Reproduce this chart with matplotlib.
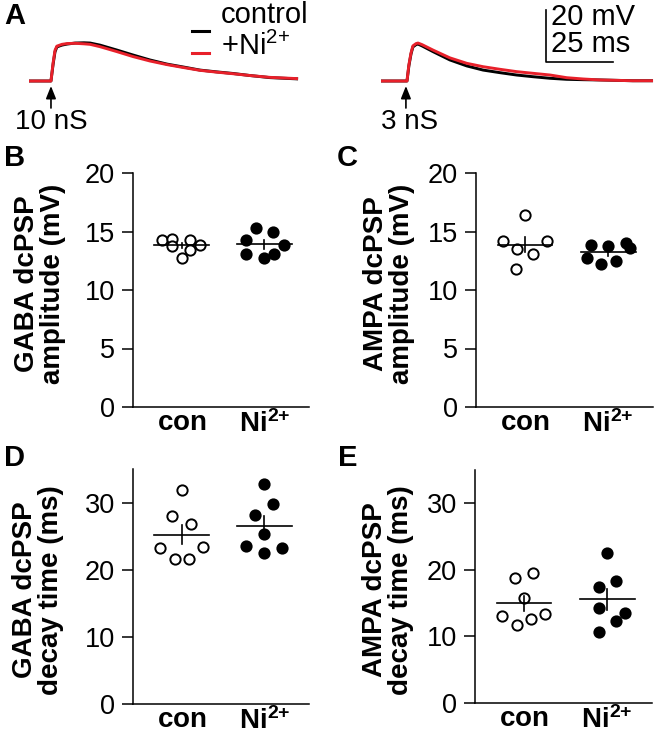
import numpy as np
import matplotlib
matplotlib.use("Agg")
import matplotlib.pyplot as plt
from matplotlib.lines import Line2D

plt.rcParams['font.family'] = ['Liberation Sans', 'DejaVu Sans']
plt.rcParams['mathtext.fontset'] = 'custom'
plt.rcParams['mathtext.rm'] = 'Liberation Sans'
plt.rcParams['mathtext.bf'] = 'Liberation Sans:bold'
plt.rcParams['mathtext.default'] = 'regular'

# ---------------- data ----------------
groups = [r"$\mathbf{con}$", r"$\mathbf{Ni^{2{+}}}$"]

# Panel A traces (time ms, voltage mV)
gaba_t_con = [0, 8.2, 9.0, 9.7, 10.4, 12.3, 14.2, 17.2, 20.5, 22.8, 26.5, 32.8, 38.8, 45.1, 51.5, 57.5, 63.8, 70.1, 76.1, 82.5, 89.9, 100.4]
gaba_v_con = [0, 0, 6.5, 11.2, 13.1, 13.8, 14.2, 14.6, 14.7, 14.6, 13.8, 11.9, 10.0, 8.1, 6.5, 5.4, 4.2, 3.5, 2.9, 2.1, 1.3, 0.8]
gaba_t_ni = [0, 8.2, 9.0, 9.7, 10.4, 12.3, 14.2, 17.2, 20.5, 22.8, 26.5, 32.8, 38.8, 45.1, 51.5, 57.5, 63.8, 70.1, 76.1, 82.5, 89.9, 100.4]
gaba_v_ni = [0, 0, 7.0, 11.8, 13.4, 14.1, 14.4, 14.5, 14.3, 14.1, 13.2, 11.3, 9.4, 7.7, 6.3, 5.2, 4.1, 3.4, 2.8, 2.1, 1.4, 0.9]

ampa_t_con = [0, 9.7, 10.4, 11.2, 11.9, 13.1, 13.8, 15.3, 19.4, 25.7, 32.0, 38.1, 44.4, 50.6, 56.7, 63.1, 69.3, 75.5, 81.7, 94.0, 101.5]
ampa_v_con = [0, 0, 5.8, 10.4, 13.1, 14.0, 14.2, 13.5, 11.3, 8.1, 5.8, 4.2, 3.2, 2.3, 1.65, 1.04, 0.65, 0.5, 0.4, 0.1, 0.1]
ampa_t_ni = [0, 9.7, 10.4, 11.2, 11.9, 13.1, 13.8, 15.3, 19.4, 25.7, 32.0, 38.1, 44.4, 50.6, 56.7, 63.1, 69.3, 75.5, 81.7, 94.0, 101.5]
ampa_v_ni = [0, 0, 6.2, 10.8, 13.5, 14.4, 14.6, 14.0, 11.9, 8.9, 6.8, 5.5, 4.5, 3.6, 2.96, 2.3, 1.27, 0.77, 0.4, 0.1, 0.1]

# Panel B: GABA amplitude (mV)
gaba_amp_con = [14.24, 14.38, 14.24, 13.8, 13.87, 13.4, 12.7]
gaba_amp_ni = [15.3, 15.0, 14.24, 13.87, 13.1, 13.1, 12.7]
# Panel C: AMPA amplitude (mV)
ampa_amp_con = [16.42, 14.23, 14.23, 13.52, 13.06, 11.78]
ampa_amp_ni = [13.86, 13.72, 14.0, 13.6, 12.72, 12.2, 12.44]
# Panel D: GABA decay (ms)
gaba_dec_con = [31.9, 28.0, 26.8, 23.3, 23.4, 21.6, 21.6]
gaba_dec_ni = [32.7, 29.8, 28.2, 25.3, 23.6, 23.3, 22.5]
# Panel E: AMPA decay (ms)
ampa_dec_con = [18.75, 19.5, 15.75, 13.0, 11.65, 12.65, 13.4]
ampa_dec_ni = [22.6, 18.35, 17.35, 14.25, 13.5, 12.25, 10.65]

# horizontal scatter offsets
jit_b_con = [-0.24, -0.12, 0.10, -0.12, 0.22, 0.10, 0.0]
jit_b_ni = [-0.10, 0.10, -0.22, 0.24, -0.22, 0.12, 0.0]
jit_c_con = [0.0, -0.26, 0.26, -0.10, 0.10, -0.11]
jit_c_ni = [-0.21, 0.0, 0.21, 0.26, -0.25, -0.08, 0.09]
jit_d_con = [0.0, -0.12, 0.11, -0.26, 0.26, -0.08, 0.09]
jit_d_ni = [0.0, 0.11, -0.11, 0.0, -0.22, 0.21, 0.0]
jit_e_con = [-0.11, 0.11, 0.0, -0.27, -0.09, 0.08, 0.25]
jit_e_ni = [0.0, 0.11, -0.10, -0.10, 0.22, 0.11, -0.10]

W, H = 656, 735
fig = plt.figure(figsize=(W / 100, H / 100), dpi=100)
RED = '#e8202a'


def fx(px):
    return px / W


def fy(py):
    return 1 - py / H


# ---------------- Panel A ----------------
PX_MS = 2.68
PX_MV = 2.6
X0 = 29
BASE = 81
axA = fig.add_axes([0, fy(140), 1, 140 / H])
axA.set_xlim(-X0 / PX_MS, (W - X0) / PX_MS)
axA.set_ylim(-(140 - BASE) / PX_MV, BASE / PX_MV)
axA.axis('off')
offset_r = (381 - X0) / PX_MS
lw_tr = 2.1
axA.plot(gaba_t_con, gaba_v_con, color='black', lw=lw_tr, solid_capstyle='butt')
axA.plot(gaba_t_ni, gaba_v_ni, color=RED, lw=lw_tr, solid_capstyle='butt')
axA.plot(np.array(ampa_t_con) + offset_r, ampa_v_con, color='black', lw=lw_tr, solid_capstyle='butt')
axA.plot(np.array(ampa_t_ni) + offset_r, ampa_v_ni, color=RED, lw=lw_tr, solid_capstyle='butt')

# scale bar
sb_t = (546 - X0) / PX_MS
sb_v = (BASE - 62) / PX_MV
axA.plot([sb_t, sb_t, sb_t + 25], [sb_v + 20, sb_v, sb_v], color='black', lw=1.2)
fig.text(fx(551), fy(17), "20 mV", fontsize=21, ha='left', va='center')
fig.text(fx(551), fy(44), "25 ms", fontsize=21, ha='left', va='center')

# legend
fig.add_artist(Line2D([fx(192), fx(209)], [fy(31), fy(31)], color='black', lw=2.2))
fig.add_artist(Line2D([fx(192), fx(209)], [fy(53), fy(53)], color=RED, lw=2.2))
fig.text(fx(221), fy(15), "control", fontsize=21, ha='left', va='center')
fig.text(fx(221), fy(46), "+Ni$^{2{+}}$", fontsize=21, ha='left', va='center')

# stimulus arrows
for t_on, lab, cx in [(gaba_t_con[1], "10 nS", 51), (ampa_t_con[1] + offset_r - 0.4, "3 nS", 410)]:
    axA.annotate('', xy=(t_on, -(86 - BASE) / PX_MV), xytext=(t_on, -(108 - BASE) / PX_MV),
                 arrowprops=dict(arrowstyle='-|>,head_length=0.75,head_width=0.3', lw=1.2,
                                 color='black', shrinkA=0, shrinkB=0))
    fig.text(fx(cx), fy(122), lab, fontsize=20, ha='center', va='center')

# ---------------- scatter panels ----------------
def panel(rect_px, ymax, yticks, con, ni, jc, jn, ylabel, lab_cx, lab_cy):
    l, t, r, b = rect_px
    ax = fig.add_axes([fx(l), fy(b), (r - l) / W, (b - t) / H])
    ax.set_xlim(-0.59, 1.54)
    ax.set_ylim(0, ymax)
    for s in ['top', 'right']:
        ax.spines[s].set_visible(False)
    for s in ['left', 'bottom']:
        ax.spines[s].set_linewidth(1.1)
    ax.set_yticks(yticks)
    ax.tick_params(axis='y', length=8, width=1.1, pad=5, labelsize=19.5)
    ax.tick_params(axis='x', length=0, pad=2)
    ax.set_xticks([0, 1])
    ax.set_xticklabels(groups, fontsize=20)
    for i, (vals, jit, fc) in enumerate([(con, jc, 'white'), (ni, jn, 'black')]):
        x = np.array(jit) + i
        ax.plot(x, vals, 'o', ms=7.4, mfc=fc, mec='black', mew=1.4, clip_on=False, zorder=3)
        m = np.mean(vals)
        sem = np.std(vals, ddof=1) / np.sqrt(len(vals))
        ax.plot([i - 0.33, i + 0.33], [m, m], color='black', lw=1.2, zorder=4)
        ax.plot([i, i], [m - sem, m + sem], color='black', lw=1.2, zorder=4)
    fig.text(fx(lab_cx), fy(lab_cy), ylabel, fontsize=20, fontweight='bold',
             rotation=90, ha='center', va='center', multialignment='center', linespacing=1.0)
    return ax


panel((133, 173, 309, 407), 20, [0, 5, 10, 15, 20], gaba_amp_con, gaba_amp_ni,
      jit_b_con, jit_b_ni, "GABA dcPSP\namplitude (mV)", 40, 284)
panel((476, 173, 653, 407), 20, [0, 5, 10, 15, 20], ampa_amp_con, ampa_amp_ni,
      jit_c_con, jit_c_ni, "AMPA dcPSP\namplitude (mV)", 389, 284)
panel((133, 469, 309, 704), 35, [0, 10, 20, 30], gaba_dec_con, gaba_dec_ni,
      jit_d_con, jit_d_ni, "GABA dcPSP\ndecay time (ms)", 38, 590)
panel((475, 470, 652, 703), 35, [0, 10, 20, 30], ampa_dec_con, ampa_dec_ni,
      jit_e_con, jit_e_ni, "AMPA dcPSP\ndecay time (ms)", 388, 590)

# panel letters
for letter, px, py in [("A", 4, 16), ("B", 4, 158), ("C", 337, 158), ("D", 4, 458), ("E", 338, 458)]:
    fig.text(fx(px), fy(py), letter, fontsize=21, fontweight='bold', ha='left', va='center')

fig.savefig("out.png", dpi=100)
